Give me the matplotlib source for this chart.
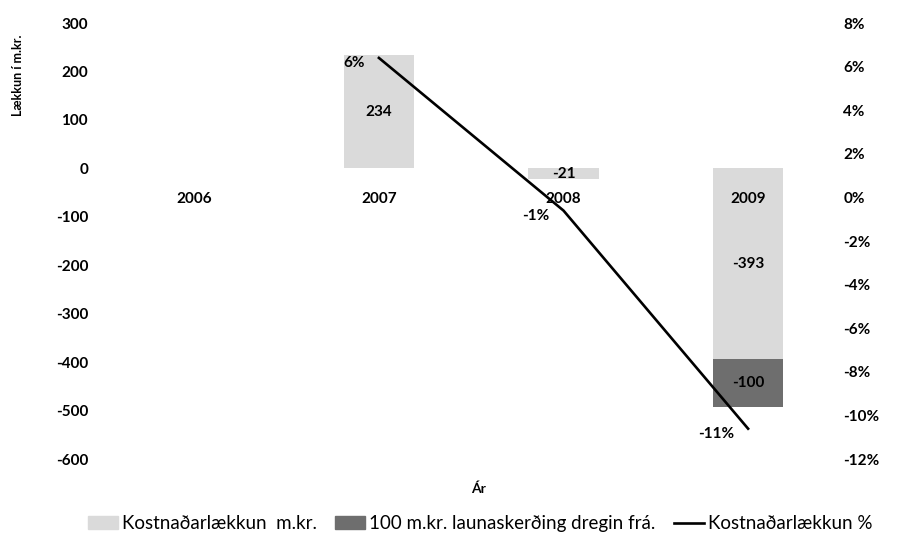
import numpy as np
import matplotlib.pyplot as plt
from matplotlib.patches import Patch
from matplotlib.lines import Line2D

plt.rcParams['font.family'] = ['Lato', 'DejaVu Sans']
plt.rcParams['axes.unicode_minus'] = False

years = ['2006', '2007', '2008', '2009']
cost_mkr = [np.nan, 234, -21, -393]
wage_cut = [np.nan, np.nan, np.nan, -100]
cost_pct = [np.nan, 6.4, -0.6, -10.6]
pct_labels = ['', '6%', '-1%', '-11%']

light = '#dadada'
dark = '#6e6e6e'

x = np.arange(len(years))

fig = plt.figure(figsize=(9.06, 5.48), dpi=100)
ax = fig.add_axes([0.1126, 0.162, 0.815, 0.796])

b1 = ax.bar(x, cost_mkr, width=0.38, color=light)
bottom2 = [c if not np.isnan(w) else 0 for c, w in zip(cost_mkr, wage_cut)]
b2 = ax.bar(x, wage_cut, width=0.38, bottom=bottom2, color=dark)

for xi, v in zip(x, cost_mkr):
    if not np.isnan(v):
        ax.text(xi, v / 2, f'{v:g}', ha='center', va='center', fontsize=11, fontweight='bold')
for xi, v, b in zip(x, wage_cut, bottom2):
    if not np.isnan(v):
        ax.text(xi, b + v / 2, f'{v:g}', ha='center', va='center', fontsize=11, fontweight='bold')

ax.set_ylim(-600, 300)
ax.set_yticks(np.arange(-600, 301, 100))
ax.set_xlim(-0.5, 3.5)
ax.set_xticks(x)
ax.set_xticklabels(years)
ax.spines['bottom'].set_position(('data', 0))
for s in ax.spines.values():
    s.set_visible(False)
ax.tick_params(axis='x', length=0, pad=17, labelsize=11)
ax.tick_params(axis='y', length=0, pad=10, labelsize=11)
for lab in ax.get_xticklabels() + ax.get_yticklabels():
    lab.set_fontweight('bold')

ax2 = ax.twinx()
ax2.plot(x, cost_pct, color='black', linewidth=1.9)
for xi, v, lab in zip(x, cost_pct, pct_labels):
    if lab:
        ax2.annotate(lab, (xi, v), xytext=(-10, -4), textcoords='offset points',
                     ha='right', va='center', fontsize=11, fontweight='bold')
ax2.set_ylim(-12, 8)
ax2.set_yticks(np.arange(-12, 9, 2))
ax2.set_yticklabels([f'{t}%' for t in range(-12, 9, 2)])
for s in ax2.spines.values():
    s.set_visible(False)
ax2.tick_params(axis='y', length=0, pad=2, labelsize=11)
for lab in ax2.get_yticklabels():
    lab.set_fontweight('bold')

fig.text(0.02, 0.863, 'Lækkun í m.kr.', rotation=90, ha='center', va='center',
         fontsize=9, fontweight='bold')
fig.text(0.528, 0.109, 'Ár', ha='center', va='center', fontsize=10, fontweight='bold')

handles = [Patch(color=light), Patch(color=dark), Line2D([0], [0], color='black', linewidth=1.9)]
labels = ['Kostnaðarlækkun  m.kr.', '100 m.kr. launaskerðing dregin frá.', 'Kostnaðarlækkun %']
fig.legend(handles, labels, loc='center', bbox_to_anchor=(0.53, 0.044), ncol=3,
           frameon=False, fontsize=13.5, handlelength=1.6, handletextpad=0.2, columnspacing=1.0)

fig.savefig('out.png', dpi=100)
